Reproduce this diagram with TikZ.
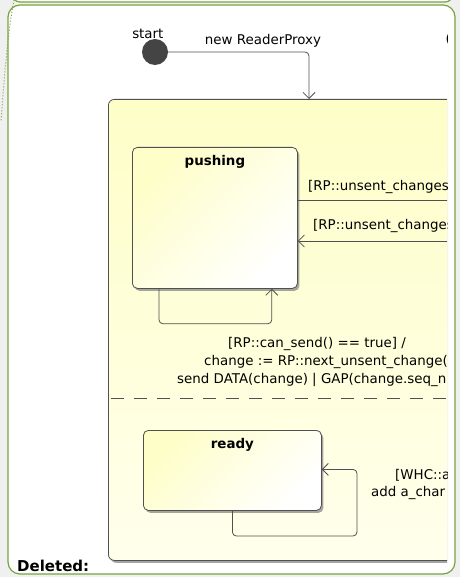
\documentclass[tikz,border=0pt]{standalone}
\usepackage{fontspec}
\setmainfont{DejaVu Sans}
\usetikzlibrary{positioning,arrows.meta,shadows}

\definecolor{umlgreen}{RGB}{120,164,62}
\definecolor{bggray}{RGB}{240,240,240}
\definecolor{stateyellow}{RGB}{254,254,200}
\definecolor{palestate}{RGB}{255,255,236}
\definecolor{linegray}{RGB}{80,80,80}
\definecolor{dotgray}{RGB}{68,68,68}
\newcommand\diafont{\fontsize{13.4}{17}\selectfont}

\begin{document}
\begin{tikzpicture}[x=1pt, y=-1pt,
  state/.style={draw=linegray, line width=0.8pt, rounded corners=5pt, inner sep=0pt,
    shading=axis, top color=stateyellow, bottom color=white, shading angle=45,
    drop shadow={shadow xshift=2pt, shadow yshift=-2.5pt, fill=black!50, opacity=0.7}},
  statename/.style={font=\diafont\bfseries, inner sep=0pt},
  lbl/.style={font=\diafont, inner sep=0pt},
  conn/.style={draw=linegray, line width=0.8pt, rounded corners=4pt},
  trans/.style={conn, -{Straight Barb[length=6pt, width=12pt]}}]
  \useasboundingbox (0,0) rectangle (460,577);
  \fill[bggray] (0,0) rectangle (460,577);
  \clip (0,0) rectangle (460,577);

  % frames
  \draw[umlgreen, line width=1.2pt, fill=white, rounded corners=8pt] (12,-30) rectangle (453,2);
  \draw[umlgreen, line width=1.2pt, fill=white, rounded corners=12pt] (8,5) rectangle (455,574);
  \draw[umlgreen, dotted, line width=1pt] (14,0) .. controls (8,30) and (4,80) .. (1,122);

  % initial state
  \node[circle, fill=dotgray, minimum size=26pt, inner sep=0pt] (init) at (155,52) {};
  \node[lbl, above left=4pt and -18pt of init] (startlbl) {start};
  \coordinate (entry) at (309,99);

  \begin{scope}
    \clip (0,0) rectangle (447,577);
    \node[state, bottom color=palestate, anchor=north west, minimum width=360pt, minimum height=461pt, rounded corners=6pt] (active) at (108,99) {};

    % region 1
    \node[state, anchor=north west, minimum width=165pt, minimum height=141pt] (pushing) at (132,147) {};
    \node[statename, below=8pt of pushing.north] (pushingname) {pushing};
    \draw[trans] ([xshift=27pt]pushing.south west) -- ++(0,35) -| ([xshift=-26pt]pushing.south east);

    \coordinate (outend) at (470,200);
    \coordinate (instart) at (470,241);
    \draw[conn] (pushing.east |- outend) -- (outend);
    \draw[trans] (instart) -- (pushing.east |- instart);
    \node[lbl, anchor=west] (outlbl) at (308,187) {[RP::unsent\_changes};
    \node[lbl, anchor=west] (inlbl) at (313,226) {[RP::unsent\_changes};

    \node[lbl, anchor=west] (guard) at (228,344) {[RP::can\_send() == true] /};
    \node[lbl, anchor=west] (act1) at (204,362) {change := RP::next\_unsent\_change(};
    \node[lbl, anchor=west] (act2) at (177,380) {send DATA(change) | GAP(change.seq\_n};

    % region 2
    \coordinate (split) at (111,398);
    \draw[linegray, line width=0.8pt, dash pattern=on 13pt off 10pt] (split) -- (470,398);

    \node[state, anchor=north west, minimum width=178pt, minimum height=80pt] (ready) at (143,430) {};
    \node[statename, below=8pt of ready.north] (readyname) {ready};
    \coordinate (rloop) at (357,536);
    \draw[trans] (ready.south) |- (rloop) |- ([yshift=1pt]ready.east);
    \node[lbl, anchor=west] (whclbl) at (395,475) {[WHC::a};
    \node[lbl, anchor=west] (addlbl) at (371,493) {add a\_char};

    \node[lbl, anchor=west] (cutlbl) at (445.5,39) {(};
  \end{scope}

  \draw[trans] (init) -| (entry);
  \node[lbl] (newlbl) at (263,41) {new ReaderProxy};

  \node[statename, font=\fontsize{15}{18}\selectfont\bfseries, anchor=west] (deleted) at (17,566) {Deleted:};
\end{tikzpicture}
\end{document}
